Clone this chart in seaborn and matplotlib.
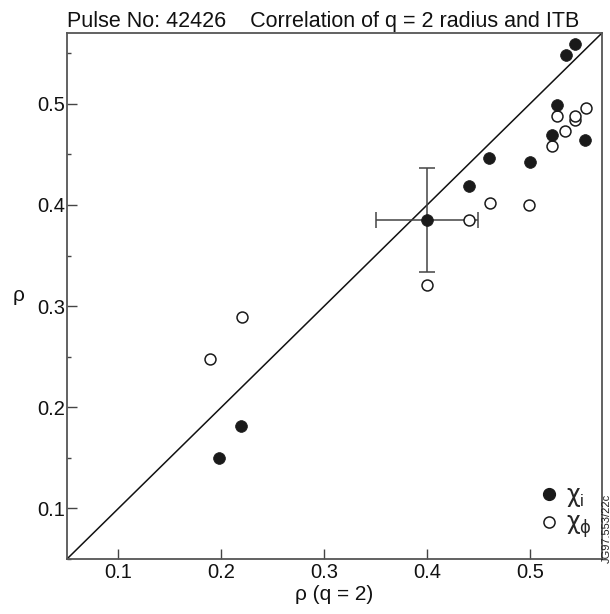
import matplotlib
matplotlib.use("Agg")
import matplotlib.pyplot as plt
import seaborn as sns
import pandas as pd
from matplotlib.ticker import MultipleLocator
from matplotlib.lines import Line2D

# Data
chi_i_x = [0.198, 0.219, 0.400, 0.441, 0.460, 0.500, 0.521, 0.526, 0.535, 0.544, 0.553]
chi_i_y = [0.150, 0.181, 0.385, 0.419, 0.446, 0.442, 0.469, 0.499, 0.548, 0.559, 0.464]
chi_phi_x = [0.189, 0.220, 0.400, 0.441, 0.461, 0.499, 0.521, 0.526, 0.534, 0.544, 0.544, 0.5545]
chi_phi_y = [0.248, 0.289, 0.321, 0.385, 0.402, 0.400, 0.458, 0.488, 0.473, 0.484, 0.488, 0.496]
err_x, err_y = 0.400, 0.385
err_xlo, err_xhi = 0.350, 0.4495
err_ylo, err_yhi = 0.334, 0.437
ticks = [0.1, 0.2, 0.3, 0.4, 0.5]
lims = [0.05, 0.57]

sns.set_theme(style="white")
plt.rcParams['font.family'] = ['Liberation Sans', 'DejaVu Sans']
plt.rcParams['mathtext.fontset'] = 'custom'
plt.rcParams['mathtext.rm'] = 'Liberation Sans'
plt.rcParams['mathtext.it'] = 'DejaVu Sans'

fig = plt.figure(figsize=(6.1, 6.14), dpi=100)
ax = fig.add_axes([0.1098, 0.0896, 0.8771, 0.8567])

df_i = pd.DataFrame({"x": chi_i_x, "y": chi_i_y})
df_p = pd.DataFrame({"x": chi_phi_x, "y": chi_phi_y})

# diagonal y = x
ax.plot(lims, lims, color="#111111", lw=1.1, zorder=1)

# error bars
ax.errorbar([err_x], [err_y],
            xerr=[[err_x - err_xlo], [err_xhi - err_x]],
            yerr=[[err_y - err_ylo], [err_yhi - err_y]],
            fmt="none", ecolor="#444444", elinewidth=1.1, capsize=6, capthick=1.1, zorder=2)

sns.scatterplot(data=df_i, x="x", y="y", ax=ax, s=72, color="#1a1a1a",
                edgecolor="#1a1a1a", linewidth=0.5, zorder=4)
sns.scatterplot(data=df_p, x="x", y="y", ax=ax, s=62, facecolor="white",
                edgecolor="#1a1a1a", linewidth=1.1, zorder=3)

ax.set_xlim(lims)
ax.set_ylim(lims)
ax.set_xticks(ticks)
ax.set_yticks(ticks)
ax.set_xticklabels([f"{t:.1f}" for t in ticks])
ax.set_yticklabels([f"{t:.1f}" for t in ticks])
ax.yaxis.set_minor_locator(MultipleLocator(0.05))
ax.tick_params(axis="both", which="major", direction="in", length=7, width=1,
               color="#444444", labelsize=14.5, pad=3, labelcolor="#111111",
               bottom=True, left=True)
ax.tick_params(axis="y", which="minor", direction="in", length=3, width=1,
               color="#444444", left=True)
ax.tick_params(axis="y", which="major", pad=1)

for side in ["left", "bottom", "top", "right"]:
    ax.spines[side].set_visible(True)
    ax.spines[side].set_color("#555555")
    ax.spines[side].set_linewidth(1.3)

ax.set_xlabel("ρ (q = 2)", fontsize=15, color="#111111", labelpad=2)
ax.set_ylabel("ρ", fontsize=15, color="#111111", rotation=0, labelpad=14, va="center")
ax.set_title("Pulse No: 42426    Correlation of q = 2 radius and ITB",
             fontsize=15.5, color="#111111", loc="left", pad=4)

handles = [
    Line2D([], [], marker="o", ls="none", markersize=8.5, markerfacecolor="#1a1a1a",
           markeredgecolor="#1a1a1a"),
    Line2D([], [], marker="o", ls="none", markersize=8, markerfacecolor="white",
           markeredgecolor="#1a1a1a", markeredgewidth=1.1),
]
ax.legend(handles, [r"$\chi_\mathrm{i}$", r"$\chi_\phi$"], loc="lower right",
          frameon=False, fontsize=17, handlelength=0.8, handletextpad=0.3,
          labelspacing=0.15, borderaxespad=0.0, bbox_to_anchor=(0.998, 0.018))

fig.text(0.994, 0.14, "JG97.553/22c", rotation=90, fontsize=8, color="#222222",
         ha="center", va="center")

fig.savefig("out.png", dpi=100)
